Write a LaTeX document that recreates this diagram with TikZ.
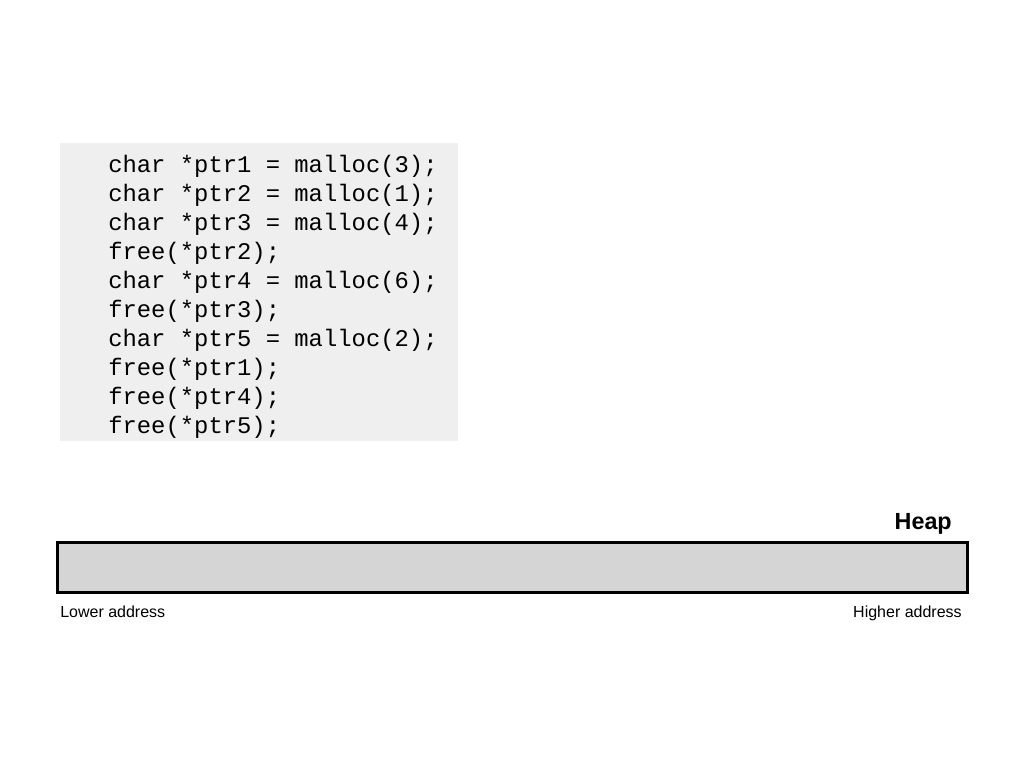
\documentclass[tikz,border=0pt]{standalone}
\usepackage{fontspec}
\setmainfont{Liberation Sans}
\newfontfamily\codefont{Liberation Mono}
\usetikzlibrary{positioning}

\definecolor{codebg}{HTML}{EFEFEF}
\definecolor{heapfill}{HTML}{D5D5D5}

\tikzset{
  codebox/.style={fill=codebg, draw=none, inner sep=0pt,
                  minimum width=298.5pt, minimum height=223.5pt},
  listing/.style={inner sep=0pt, align=left,
                  font=\codefont\fontsize{17.9}{21.75}\selectfont},
  heapbar/.style={draw=black, fill=heapfill, line width=2.25pt, inner sep=0pt,
                  minimum width=682.5pt, minimum height=37.5pt},
  heaplabel/.style={inner sep=0pt, font=\bfseries\fontsize{17.5}{20}\selectfont},
  addrlabel/.style={inner sep=0pt, font=\fontsize{12}{14}\selectfont}
}

\begin{document}
\begin{tikzpicture}[x=0.75pt,y=-0.75pt]
  \useasboundingbox (0,0) rectangle (1024,768);

  % code listing
  \node[codebox, anchor=north west] (code) at (60,143) {};
  \node[listing, anchor=north west] (lines) at (108,155) {%
    char *ptr1 = malloc(3);\\
    char *ptr2 = malloc(1);\\
    char *ptr3 = malloc(4);\\
    free(*ptr2);\\
    char *ptr4 = malloc(6);\\
    free(*ptr3);\\
    char *ptr5 = malloc(2);\\
    free(*ptr1);\\
    free(*ptr4);\\
    free(*ptr5);};

  % heap
  \node[heapbar] (heap) at (512,567) {};
  \node[heaplabel, anchor=base east] (heapname) at (952,529) {Heap};
  \node[addrlabel, anchor=base west] (low) at (60,617) {Lower address};
  \node[addrlabel, anchor=base east] (high) at (962,617) {Higher address};
\end{tikzpicture}
\end{document}
